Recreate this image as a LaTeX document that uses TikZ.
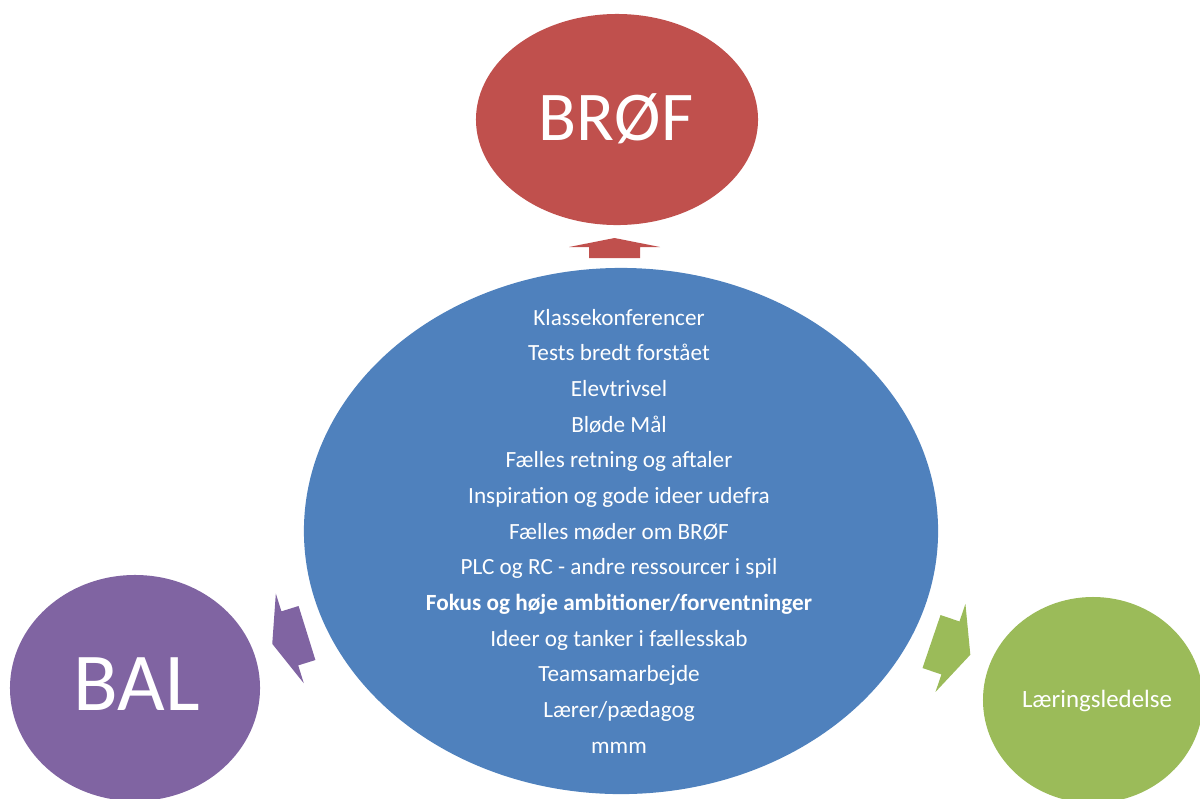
\documentclass[tikz,border=0pt]{standalone}
\usepackage{fontspec}
\setmainfont{Carlito}
\usetikzlibrary{shapes.geometric}

\definecolor{brofred}{HTML}{C0504D}
\definecolor{hubblue}{HTML}{4F81BD}
\definecolor{balpurple}{HTML}{8064A2}
\definecolor{laergreen}{HTML}{9BBB59}

% flat block arrow: colour, angle, back x, back y, shaft len, head len, shaft half, head half
\newcommand{\flatarrow}[8]{%
  \fill[#1, shift={(#3,#4)}, rotate=#2]
    (0,-#7) -- (#5,-#7) -- (#5,-#8) -- ({#5+#6},0) -- (#5,#8) -- (#5,#7) -- (0,#7) -- cycle;
}

\begin{document}
\begin{tikzpicture}[
      x=0.025cm, y=-0.025cm,
      bubble/.style={ellipse, fill=#1, draw=none, inner sep=0pt},
      bubbletext/.style={text=white, anchor=base, inner sep=0pt},
      listline/.style={text=white, anchor=base, inner sep=0pt,
                       font=\fontsize{16.5}{20}\selectfont}
    ]
      \useasboundingbox (0,0) rectangle (1200,798);
      \begin{scope}
      \clip (0,0) rectangle (1200,798);

      % the four bubbles
      \node[bubble=brofred, minimum width=7.05cm, minimum height=5.275cm] (brof) at (617,119.5) {};
      \node[bubble=hubblue, minimum width=15.85cm, minimum height=13.15cm] (hub) at (621,531) {};
      \node[bubble=balpurple, minimum width=6.25cm, minimum height=5.65cm] (bal) at (135,688) {};
      \node[bubble=laergreen, minimum width=5.5cm, minimum height=5.15cm] (laering) at (1093,700) {};
      \end{scope}

      \node[bubbletext, font=\fontsize{49.7}{55}\selectfont] (brofname) at (616,140) {BRØF};
      \node[bubbletext, font=\fontsize{58.5}{64}\selectfont] (balname) at (137,710) {BAL};
      \node[bubbletext, font=\fontsize{17.7}{20}\selectfont] (laername) at (1097,707) {Læringsledelse};

      % block arrows out of the hub
      \flatarrow{brofred}{90}{614.5}{258}{11}{9}{25.5}{45.5}
      \flatarrow{balpurple}{197.3}{307}{633}{18}{18.4}{28.3}{47}
      \flatarrow{laergreen}{-18.8}{931.5}{641.5}{20}{21}{28}{46.5}

      % list in the hub
      \foreach \txt [count=\i] in {Klassekonferencer, Tests bredt forstået, Elevtrivsel,
          Bløde Mål, Fælles retning og aftaler, Inspiration og gode ideer udefra,
          Fælles møder om BRØF, PLC og RC - andre ressourcer i spil,
          {\bfseries Fokus og høje ambitioner/forventninger}, Ideer og tanker i fællesskab,
          Teamsamarbejde, Lærer/pædagog, mmm} {
        \pgfmathsetmacro{\yy}{325+(\i-1)*35.67}
        \node[listline] (l\i) at (619,\yy) {\txt};
      }
    \end{tikzpicture}
\end{document}
